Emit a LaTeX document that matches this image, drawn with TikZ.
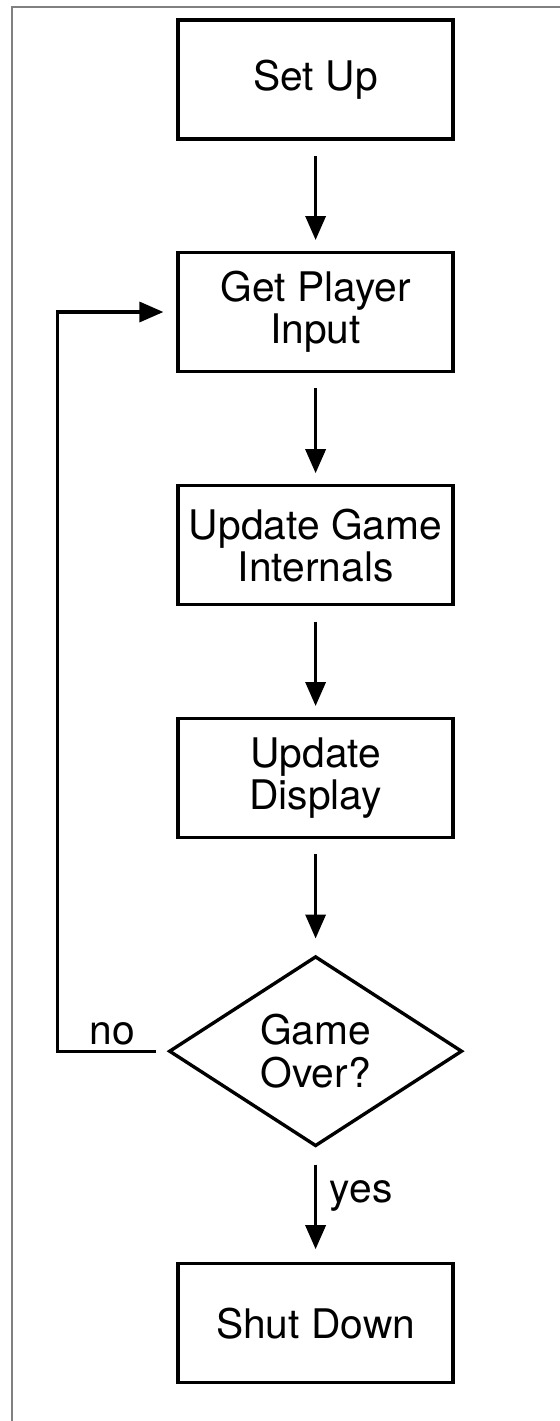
\documentclass[tikz,border=0pt]{standalone}
\usepackage{fontspec}
\setmainfont{TeX Gyre Heros}
\usetikzlibrary{shapes.geometric,arrows.meta}

\begin{document}
\begin{tikzpicture}
[>={Triangle[length=0.6cm,width=0.5cm]},line width=2.4pt,
block/.style={draw,rectangle,minimum width=6.875cm,minimum height=2.975cm,inner sep=2pt,align=center,font=\fontsize{29}{30}\selectfont},
decision/.style={draw,diamond,aspect=1.5,minimum width=7.33cm,minimum height=4.75cm,inner sep=0pt,align=center,font=\fontsize{29}{30}\selectfont},
flow/.style={->,shorten <=0.38cm,shorten >=0.27cm},
tag/.style={font=\fontsize{29}{30}\selectfont},]

\useasboundingbox (0,0) rectangle (14,-35.525);
\draw[gray,line width=1.4pt] (14.2,-0.175) -| (0.3,-35.7);

\node (setup) at (7.89,-1.99)[block]{Set Up};
\node (input) at (7.89,-7.80)[block]{Get Player\\Input};
\node (internals) at (7.89,-13.63)[block]{Update Game\\Internals};
\node (display) at (7.89,-19.45)[block]{Update\\Display};
\node (over) at (7.89,-26.28)[decision]{Game\\Over?};
\node (shutdown) at (7.89,-33.08)[block]{Shut Down};

\draw[flow] (setup)--(input);
\draw[flow] (input)--(internals);
\draw[flow] (internals)--(display);
\draw[flow,shorten >=0.4cm] (display)--(over);
\draw[flow,shorten <=0.42cm,shorten >=0.32cm] (over)--node[tag,right,pos=0.42,xshift=0.2cm]{yes}(shutdown);
%\draw[flow] (over.west) -| (input.west);
\draw[->,shorten <=0.275cm,shorten >=0.325cm] (over.west) -- node[tag,above]{no} ++(-2.75,0) |- (input.west);

\end{tikzpicture}
\end{document}
